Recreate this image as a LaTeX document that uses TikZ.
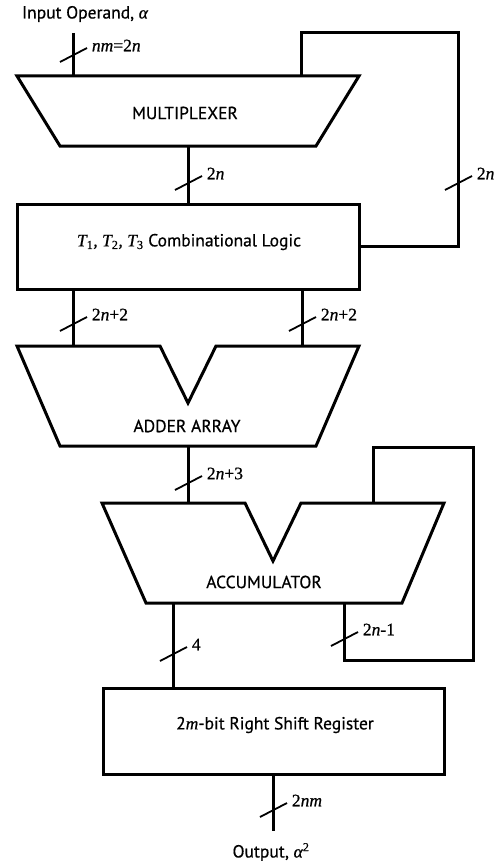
\documentclass[tikz,border=0pt]{standalone}
\usepackage{fontspec}
\setmainfont{PT Sans}[FakeBold=0.6]
\newfontfamily\serifl{Liberation Serif}[FakeBold=0.7]

\tikzset{
  wire/.style={line width=3pt},
  blockshape/.style={draw, line width=3pt, line join=miter},
  box/.style={draw, line width=3pt, rectangle, inner sep=0pt, outer sep=0pt},
  title/.style={font=\fontsize{17.5}{20}\selectfont, inner sep=0pt},
  busmark/.style={line width=1.8pt},
  buslabel/.style={font=\serifl\fontsize{17.5}{20}\selectfont, inner sep=0pt, anchor=west},
}

% slash across a bus with its width label
\newcommand\busslash[2]{%
  \draw[busmark] ([shift={(-13,7)}]#1) -- ([shift={(14,-7)}]#1)
    node[buslabel, xshift=4pt, yshift=2.5pt] {#2};}

\begin{document}
\begin{tikzpicture}[x=1pt,y=-1pt]
\useasboundingbox (0,0) rectangle (500,864);

% ---------- input ----------
\node[title] (inlbl) at (85,14) {Input Operand, {\serifl\itshape α}};
\coordinate (inTop) at (73,33);

% ---------- multiplexer ----------
\draw[blockshape] (17,76) -- (359,76) -- (316,146) -- (60,146) -- cycle;
\node[title] (mux) at (185,113) {MULTIPLEXER};
\coordinate (muxIn) at (73,76);
\coordinate (muxFb) at (301,76);
\coordinate (muxOut) at (188,146);

% ---------- combinational logic ----------
\node[box, minimum width=342pt, minimum height=85pt] (logic) at (188,246.5) {};
\node[title] (logictxt) at (189,242)
  {{\serifl\itshape T\textsubscript{\upshape 1}, T\textsubscript{\upshape 2}, T\textsubscript{\upshape 3}} Combinational Logic};
\coordinate (logicL) at (73,289);
\coordinate (logicR) at (302,289);
\coordinate (fbCornerA) at (458,33);

% ---------- adder array ----------
\draw[blockshape] (17,346) -- (160,346) -- (188,403) -- (216,346) -- (359,346)
  -- (316,446) -- (60,446) -- cycle;
\node[title] (adder) at (187,426) {ADDER ARRAY};
\coordinate (addInL) at (73,346);
\coordinate (addInR) at (302,346);
\coordinate (addOut) at (188,446);

% ---------- accumulator ----------
\draw[blockshape] (102,503) -- (245,503) -- (273,561) -- (301,503) -- (444,503)
  -- (402,603) -- (146,603) -- cycle;
\node[title] (acc) at (264,582) {ACCUMULATOR};
\coordinate (accIn) at (188,503);
\coordinate (accFbT) at (373,503);
\coordinate (accOut) at (173,603);
\coordinate (accFbB) at (344,603);
\coordinate (fbCornerB) at (473,447);
\coordinate (fbCornerC) at (344,660);

% ---------- shift register ----------
\node[box, minimum width=341pt, minimum height=86pt] (shreg) at (273.5,731) {};
\node[title] (shtxt) at (275,725) {2{\serifl\itshape m}-bit Right Shift Register};
\coordinate (shIn) at (173,688);
\coordinate (shOut) at (273,774);
\coordinate (outEnd) at (273,831);
\node[title] (outlbl) at (271,852) {Output, {\serifl\itshape α\textsuperscript{\upshape 2}}};

% ---------- connectors ----------
\draw[wire] (inTop) -- (muxIn);
\draw[wire] (muxOut) -- (logic.north);
\draw[wire] (logic.east) -| (fbCornerA) -| (muxFb);
\draw[wire] (logicL) -- (addInL);
\draw[wire] (logicR) -- (addInR);
\draw[wire] (addOut) -- (accIn);
\draw[wire] (accFbT) |- (fbCornerB) |- (fbCornerC) -- (accFbB);
\draw[wire] (accOut) -- (shIn);
\draw[wire] (shOut) -- (outEnd);

% ---------- bus widths ----------
\coordinate (t1) at (73,55);
\coordinate (t2) at (188,183);
\coordinate (t3) at (458,183);
\coordinate (t4) at (73,324);
\coordinate (t5) at (302,324);
\coordinate (t6) at (188,483);
\coordinate (t7) at (173,654);
\coordinate (t8) at (344,639);
\coordinate (t9) at (273,810);
\busslash{t1}{\textit{nm}=2\textit{n}}
\busslash{t2}{2\textit{n}}
\busslash{t3}{2\textit{n}}
\busslash{t4}{2\textit{n}+2}
\busslash{t5}{2\textit{n}+2}
\busslash{t6}{2\textit{n}+3}
\busslash{t7}{4}
\busslash{t8}{2\textit{n}-1}
\busslash{t9}{2\textit{nm}}
\end{tikzpicture}
\end{document}
